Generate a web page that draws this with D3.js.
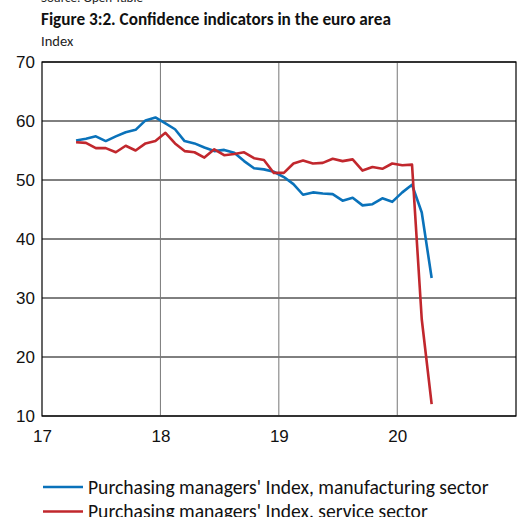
<!DOCTYPE html>
<html>
<head>
<meta charset="utf-8">
<script src="https://cdn.jsdelivr.net/npm/d3@7"></script>
<style>
  body { margin: 0; background: #fff; }
  svg { display: block; font-family: Carlito, Calibri, Lato, "Open Sans", sans-serif; }
</style>
</head>
<body>
<svg width="520" height="517"></svg>
<script>
// monthly observations, April 2017 - April 2020
const months = [
  "2017-04","2017-05","2017-06","2017-07","2017-08","2017-09","2017-10","2017-11","2017-12",
  "2018-01","2018-02","2018-03","2018-04","2018-05","2018-06","2018-07","2018-08","2018-09","2018-10","2018-11","2018-12",
  "2019-01","2019-02","2019-03","2019-04","2019-05","2019-06","2019-07","2019-08","2019-09","2019-10","2019-11","2019-12",
  "2020-01","2020-02","2020-03","2020-04"
];
const manufacturing = [
  56.7, 57.0, 57.4, 56.6, 57.4, 58.1, 58.5, 60.1, 60.6,
  59.6, 58.6, 56.6, 56.2, 55.5, 54.9, 55.1, 54.6, 53.2, 52.0, 51.8, 51.4,
  50.5, 49.3, 47.5, 47.9, 47.7, 47.6, 46.5, 47.0, 45.7, 45.9, 46.9, 46.3,
  47.9, 49.2, 44.5, 33.4
];
const services = [
  56.4, 56.3, 55.4, 55.4, 54.7, 55.8, 55.0, 56.2, 56.6,
  58.0, 56.2, 54.9, 54.7, 53.8, 55.2, 54.2, 54.4, 54.7, 53.7, 53.4, 51.2,
  51.2, 52.8, 53.3, 52.8, 52.9, 53.6, 53.2, 53.5, 51.6, 52.2, 51.9, 52.8,
  52.5, 52.6, 26.4, 12.0
];
const seriesNames = [
  "Purchasing managers' Index, manufacturing sector",
  "Purchasing managers' Index, service sector"
];
const seriesColors = ["#0a72ba", "#c1272d"];
const yTicks = [10, 20, 30, 40, 50, 60, 70];
const xTickYears = [2017, 2018, 2019, 2020];

const svg = d3.select('svg');
const plotLeft = 42, plotRight = 516, plotTop = 62, plotBottom = 416;

const parseMonth = d3.timeParse("%Y-%m");
// plot each month at its middle
const midMonth = s => {
  const d = parseMonth(s);
  return new Date((+d + +d3.timeMonth.offset(d, 1)) / 2);
};

const x = d3.scaleTime()
  .domain([new Date(2017, 0, 1), new Date(2021, 0, 1)])
  .range([plotLeft, plotRight]);
const y = d3.scaleLinear()
  .domain([10, 70])
  .range([plotBottom, plotTop]);

// texts at top
svg.append('text').attr('x', 41).attr('y', 2).attr('font-size', 13).attr('fill', '#222')
  .text('Source: Open Table');
svg.append('text').attr('x', 41).attr('y', 25).attr('font-size', 17.2).attr('font-weight', 'bold').attr('fill', '#111')
  .text('Figure 3:2. Confidence indicators in the euro area');
svg.append('text').attr('x', 41).attr('y', 46).attr('font-size', 14.5).attr('fill', '#222')
  .text('Index');

// horizontal grid
svg.append('g')
  .selectAll('line').data(yTicks).join('line')
  .attr('x1', plotLeft).attr('x2', plotRight)
  .attr('y1', d => y(d)).attr('y2', d => y(d))
  .attr('stroke', '#000').attr('stroke-width', 1);

// vertical grid
svg.append('g')
  .selectAll('line').data(xTickYears.slice(1)).join('line')
  .attr('x1', d => x(new Date(d, 0, 1))).attr('x2', d => x(new Date(d, 0, 1)))
  .attr('y1', plotTop).attr('y2', plotBottom)
  .attr('stroke', '#777').attr('stroke-width', 1);

// frame
svg.append('rect')
  .attr('x', plotLeft).attr('y', plotTop).attr('width', plotRight - plotLeft).attr('height', plotBottom - plotTop)
  .attr('fill', 'none').attr('stroke', '#000').attr('stroke-width', 1.2);

// y axis labels
const yAxis = d3.axisLeft(y).tickValues(yTicks).tickSize(0).tickPadding(7);
const gY = svg.append('g').attr('transform', `translate(${plotLeft},0)`).call(yAxis);
gY.select('.domain').remove();
gY.selectAll('text').attr('font-size', 17).attr('fill', '#111').attr('font-family', null);

// x axis labels
const xAxis = d3.axisBottom(x)
  .tickValues(xTickYears.map(d => new Date(d, 0, 1)))
  .tickFormat(d3.timeFormat('%y'))
  .tickSize(0).tickPadding(14);
const gX = svg.append('g').attr('transform', `translate(0,${plotBottom})`).call(xAxis);
gX.select('.domain').remove();
gX.selectAll('text').attr('font-size', 17).attr('fill', '#111').attr('font-family', null);

// lines
const line = d3.line()
  .x((d, i) => x(midMonth(months[i])))
  .y(d => y(d));

[manufacturing, services].forEach((vals, k) => {
  svg.append('path')
    .datum(vals)
    .attr('d', line)
    .attr('fill', 'none')
    .attr('stroke', seriesColors[k])
    .attr('stroke-width', 2.6)
    .attr('stroke-linejoin', 'round');
});

// legend
const legend = svg.append('g');
seriesNames.forEach((name, k) => {
  const ly = 487 + k * 24.5;
  legend.append('line')
    .attr('x1', 43).attr('x2', 83).attr('y1', ly).attr('y2', ly)
    .attr('stroke', seriesColors[k]).attr('stroke-width', 2.6);
  legend.append('text')
    .attr('x', 88).attr('y', ly + 6.5)
    .attr('font-size', 19.6).attr('fill', '#111')
    .text(name);
});
</script>
</body>
</html>
